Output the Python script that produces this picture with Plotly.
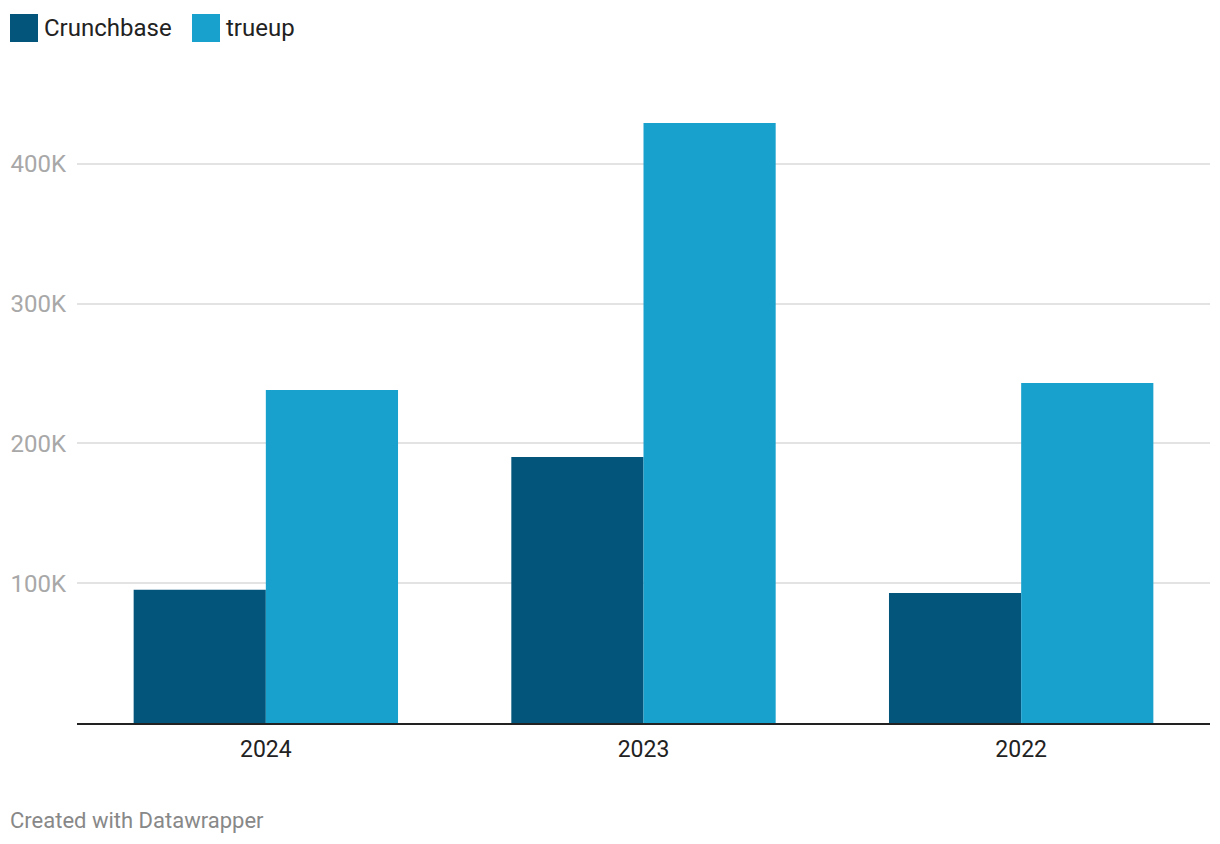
import plotly.graph_objects as go

years = ["2024", "2023", "2022"]
crunchbase = [95300, 190300, 93000]
trueup = [238300, 429300, 243300]
series_names = ["Crunchbase", "trueup"]
series_colors = ["#03557c", "#18a1cd"]
y_tickvals = [100000, 200000, 300000, 400000]
y_ticktext = ["100K", "200K", "300K", "400K"]

W, H = 1220, 844
L, R, T, B = 77, 10, 94, 121
pw, ph = W - L - R, H - T - B

def px_x(px):
    return (px - L) / pw

def px_y(py):
    return (H - B - py) / ph

fig = go.Figure()
for name, vals, col in zip(series_names, [crunchbase, trueup], series_colors):
    fig.add_trace(go.Bar(x=years, y=vals, name=name, marker=dict(color=col, line=dict(width=0)),
                         showlegend=False))

# custom legend
legend_x = [(10, 44), (192, 226)]
shapes = []
annotations = []
for (sx, tx), name, col in zip(legend_x, series_names, series_colors):
    shapes.append(dict(type="rect", xref="paper", yref="paper",
                       x0=px_x(sx), x1=px_x(sx + 28), y0=px_y(42), y1=px_y(14),
                       fillcolor=col, line=dict(width=0)))
    annotations.append(dict(text=name, xref="paper", yref="paper", x=px_x(tx - 2), y=px_y(28),
                            xanchor="left", yanchor="middle", showarrow=False,
                            font=dict(size=24, color="#222222", family="Roboto")))
annotations.append(dict(text="Created with Datawrapper", xref="paper", yref="paper",
                        x=px_x(8), y=px_y(820), xanchor="left", yanchor="middle",
                        showarrow=False, font=dict(size=22, color="#888888", family="Roboto")))

fig.update_layout(
    width=W, height=H,
    margin=dict(l=L, r=R, t=T, b=B, pad=0),
    paper_bgcolor="white", plot_bgcolor="white",
    barmode="group", bargap=0.3, bargroupgap=0,
    font=dict(family="Roboto", color="#222222"),
    shapes=shapes, annotations=annotations,
    xaxis=dict(showline=True, linecolor="#222222", linewidth=2, showgrid=False,
               ticks="", tickfont=dict(size=23, color="#222222"), ticklabelstandoff=4,
               fixedrange=True),
    yaxis=dict(range=[0, 450000], tickvals=y_tickvals, ticktext=y_ticktext,
               showgrid=True, gridcolor="#e3e3e3", gridwidth=1.5, zeroline=False,
               showline=False, ticks="", tickfont=dict(size=24, color="#a8a8a8"),
               ticklabelstandoff=10, fixedrange=True),
)

fig.write_html("out.html", config={"displayModeBar": False},
               post_script="document.body.style.margin='0';")
